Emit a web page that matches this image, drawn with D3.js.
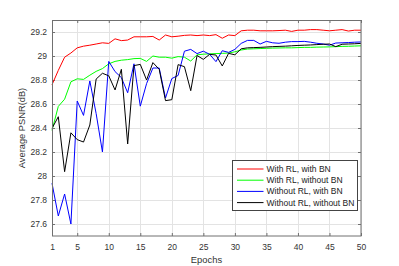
<!DOCTYPE html>
<html><head><meta charset="utf-8">
<script src="https://cdn.jsdelivr.net/npm/d3@7"></script>
<style>
html,body{margin:0;padding:0;background:#fff;}
svg{display:block;font-family:"Liberation Sans",Arial,Helvetica,sans-serif;}
</style></head>
<body><svg id="c" width="399" height="266"></svg>
<script>
const epochs = d3.range(1, 51);
const xTicks = [1,5,10,15,20,25,30,35,40,45,50];
const yTicks = [27.6,27.8,28,28.2,28.4,28.6,28.8,29,29.2];
const yTickLabels = ["27.6","27.8","28","28.2","28.4","28.6","28.8","29","29.2"];
const seriesNames = ["With RL, with BN","With RL, without BN","Without RL, with BN","Without RL, without BN"];
const seriesColors = ["#ff0000","#00ff00","#0000ff","#000000"];
const xLabel = "Epochs";
const yLabel = "Average PSNR(dB)";

const redVals = [28.76,28.88,28.99,29.025,29.068,29.082,29.09,29.10,29.11,29.105,
 29.143,29.128,29.133,29.16,29.16,29.16,29.163,29.133,29.175,29.16,
 29.165,29.172,29.175,29.17,29.175,29.17,29.178,29.148,29.175,29.17,
 29.21,29.215,29.215,29.21,29.21,29.21,29.212,29.215,29.205,29.215,
 29.215,29.22,29.22,29.215,29.21,29.215,29.22,29.208,29.215,29.215];
const greenVals = [28.38,28.58,28.64,28.785,28.81,28.805,28.84,28.872,28.895,28.935,
 28.955,28.965,28.97,28.978,28.98,28.955,29.0,28.99,28.99,28.982,
 28.995,28.99,28.958,29.01,29.015,29.018,29.02,29.022,29.025,29.035,
 29.05,29.058,29.06,29.062,29.064,29.066,29.067,29.068,29.068,29.07,
 29.072,29.072,29.074,29.075,29.076,29.078,29.08,29.081,29.083,29.085];
const blueVals = [27.94,27.667,27.85,27.6,28.625,28.505,28.792,28.52,28.2,28.955,
 28.87,28.82,28.694,28.935,28.582,28.77,28.9,28.9,28.65,28.812,
 28.838,29.04,29.055,29.02,29.04,29.014,28.953,29.044,29.03,29.055,
 29.105,29.13,29.13,29.1,29.122,29.11,29.106,29.115,29.12,29.12,
 29.122,29.115,29.106,29.1,29.09,29.108,29.11,29.112,29.115,29.117];
const blackVals = [28.397,28.494,28.036,28.36,28.303,28.283,28.425,28.808,28.856,28.835,
 28.717,28.889,28.267,28.92,28.93,28.8,28.945,28.889,28.628,28.636,
 28.928,28.911,28.711,29.004,28.972,29.014,29.008,28.917,29.022,29.01,
 29.06,29.068,29.07,29.072,29.075,29.078,29.08,29.082,29.085,29.088,
 29.09,29.092,29.095,29.098,29.1,29.078,29.098,29.1,29.102,29.105];
const allVals = [redVals, greenVals, blueVals, blackVals];

const svg = d3.select("#c");
const L = 52, R = 361, T = 20, B = 236;
const x = d3.scaleLinear().domain([1,50]).range([L,R]);
const y = d3.scaleLinear().domain([27.5,29.3]).range([B,T]);
const axisCol = "#707070", textCol = "#333", gridCol = "#e3e3e3";

// grid
const g = svg.append("g");
g.selectAll(".vg").data(xTicks).join("line")
 .attr("x1", d=>Math.round(x(d))+0.5).attr("x2", d=>Math.round(x(d))+0.5)
 .attr("y1", T).attr("y2", B).attr("stroke", gridCol);
g.selectAll(".hg").data(yTicks).join("line")
 .attr("y1", d=>Math.round(y(d))+0.5).attr("y2", d=>Math.round(y(d))+0.5)
 .attr("x1", L).attr("x2", R).attr("stroke", gridCol);

// axes via d3 axis (inward ticks)
const fs = "8.5px";
const xb = svg.append("g").attr("transform", `translate(0,${B})`)
 .call(d3.axisBottom(x).tickValues(xTicks).tickSizeInner(-3).tickSizeOuter(0).tickPadding(8));
const xt = svg.append("g").attr("transform", `translate(0,${T})`)
 .call(d3.axisTop(x).tickValues(xTicks).tickSizeInner(-3).tickSizeOuter(0).tickFormat(""));
const yl = svg.append("g").attr("transform", `translate(${L},0)`)
 .call(d3.axisLeft(y).tickValues(yTicks).tickSizeInner(-3).tickSizeOuter(0).tickPadding(5)
   .tickFormat((d,i)=>yTickLabels[i]));
const yr = svg.append("g").attr("transform", `translate(${R},0)`)
 .call(d3.axisRight(y).tickValues(yTicks).tickSizeInner(-3).tickSizeOuter(0).tickFormat(""));
[xb,xt,yl,yr].forEach(a=>{
  a.select(".domain").remove();
  a.selectAll("line").attr("stroke", axisCol);
  a.selectAll("text").attr("fill", textCol).style("font-size", fs).style("font-family","Liberation Sans, Arial, sans-serif");
});

// data lines
const line = d3.line().x((d,i)=>x(epochs[i])).y(d=>y(d));
allVals.forEach((vals, k)=>{
  svg.append("path").datum(vals).attr("d", line)
   .attr("fill","none").attr("stroke", seriesColors[k]).attr("stroke-width", 1)
   .attr("stroke-linejoin","round");
});

// box
svg.append("rect").attr("x", L+0.5).attr("y", T+0.5).attr("width", R-L-1+0.5).attr("height", B-T-0.5)
 .attr("fill","none").attr("stroke", axisCol);

// axis labels
svg.append("text").attr("x", (L+R)/2).attr("y", 262.5).attr("text-anchor","middle")
 .attr("fill", textCol).style("font-size","9.4px").text(xLabel);
svg.append("text").attr("transform", `translate(25,${(T+B)/2}) rotate(-90)`).attr("text-anchor","middle")
 .attr("fill", textCol).style("font-size","9.3px").text(yLabel);

// legend
const lg = svg.append("g");
lg.append("rect").attr("x", 232.5).attr("y", 160.5).attr("width", 125).attr("height", 50)
 .attr("fill","#fff").attr("stroke","#444");
seriesNames.forEach((n,k)=>{
  const yy = 169 + k*11.2;
  lg.append("line").attr("x1",237).attr("x2",263.5).attr("y1",yy).attr("y2",yy)
   .attr("stroke", seriesColors[k]).attr("stroke-width",1);
  lg.append("text").attr("x",266.5).attr("y",yy+3).attr("fill","#222").style("font-size",fs).text(n);
});
</script></body></html>
